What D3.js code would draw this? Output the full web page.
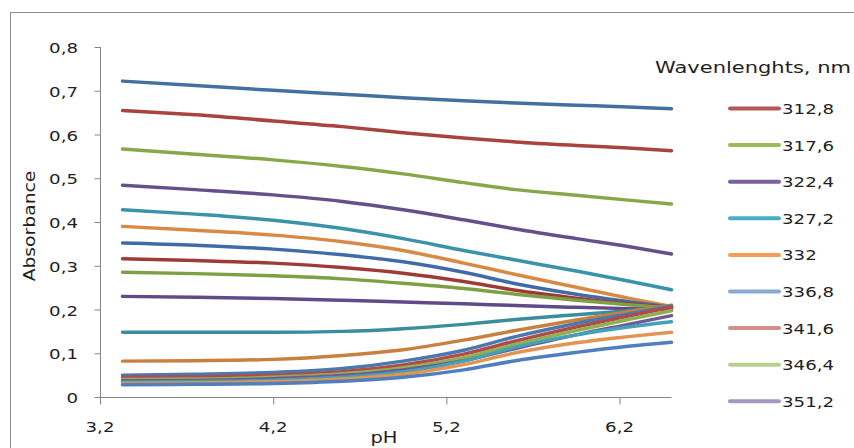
<!DOCTYPE html>
<html>
<head>
<meta charset="utf-8">
<script src="https://cdnjs.cloudflare.com/ajax/libs/d3/7.8.5/d3.min.js"></script>
<style>
  body { margin: 0; background: #fff; }
  text { font-family: "DejaVu Sans", sans-serif; fill: #1f1f1f; }
</style>
</head>
<body>
<svg id="chart"></svg>
<script>
// absorbance vs pH, one smoothed line per wavelength

var width = 854;
var height = 448;

// DATA
var pH = [3.33, 3.75, 4.2, 4.6, 4.95, 5.3, 5.6, 5.95, 6.25, 6.5];

var wavelengths = ["308", "312,8", "317,6", "322,4", "327,2", "332", "336,8", "341,6", "346,4",
    "351,2", "356", "360,8", "365,6", "370,4", "375,2", "380", "384,8", "389,6", "394,4"];

var absorbance = [
    [0.722, 0.712, 0.701, 0.692, 0.684, 0.677, 0.672, 0.667, 0.663, 0.659],
    [0.655, 0.645, 0.631, 0.618, 0.604, 0.592, 0.583, 0.575, 0.569, 0.563],
    [0.567, 0.555, 0.542, 0.527, 0.510, 0.490, 0.474, 0.461, 0.450, 0.441],
    [0.484, 0.474, 0.462, 0.447, 0.428, 0.405, 0.384, 0.362, 0.344, 0.327],
    [0.428, 0.418, 0.404, 0.385, 0.362, 0.335, 0.313, 0.288, 0.265, 0.245],
    [0.390, 0.381, 0.370, 0.355, 0.335, 0.306, 0.280, 0.251, 0.226, 0.207],
    [0.352, 0.347, 0.338, 0.325, 0.309, 0.285, 0.259, 0.235, 0.218, 0.205],
    [0.316, 0.312, 0.306, 0.296, 0.283, 0.264, 0.244, 0.226, 0.213, 0.204],
    [0.285, 0.282, 0.277, 0.270, 0.260, 0.248, 0.235, 0.221, 0.211, 0.203],
    [0.230, 0.228, 0.225, 0.221, 0.217, 0.213, 0.209, 0.205, 0.202, 0.200],
    [0.148, 0.148, 0.148, 0.150, 0.156, 0.166, 0.177, 0.188, 0.197, 0.206],
    [0.082, 0.083, 0.086, 0.095, 0.108, 0.130, 0.152, 0.176, 0.195, 0.210],
    [0.050, 0.052, 0.056, 0.065, 0.082, 0.107, 0.138, 0.168, 0.190, 0.208],
    [0.045, 0.046, 0.050, 0.058, 0.073, 0.098, 0.128, 0.160, 0.185, 0.205],
    [0.040, 0.041, 0.045, 0.053, 0.067, 0.090, 0.120, 0.152, 0.177, 0.197],
    [0.037, 0.038, 0.042, 0.049, 0.062, 0.083, 0.111, 0.142, 0.166, 0.186],
    [0.034, 0.035, 0.038, 0.045, 0.057, 0.082, 0.114, 0.142, 0.160, 0.172],
    [0.031, 0.032, 0.035, 0.041, 0.052, 0.074, 0.101, 0.124, 0.138, 0.148],
    [0.028, 0.029, 0.031, 0.036, 0.045, 0.062, 0.083, 0.102, 0.116, 0.125]
];

var lineColors = ["#43709f", "#a9433f", "#86a84a", "#64508b", "#3a93a8", "#d88a44",
    "#3f6ca8", "#9e3b37", "#7ea045", "#5f4b87", "#3a8d9f", "#c8803f",
    "#4a78b0", "#b04c48", "#8fb052", "#6e5a96", "#45a0b8", "#e39450", "#4f7fbc"];

// legend only shows these entries
var legendLabels = ["312,8", "317,6", "322,4", "327,2", "332", "336,8", "341,6", "346,4", "351,2"];
var legendColors = ["#b65754", "#9bbb59", "#7b6199", "#4bacc6", "#f59d56", "#8aa9cf", "#d68d8b", "#b9d08f", "#a697c0"];

var xTicks = [3.2, 4.2, 5.2, 6.2];
var yTicks = [0, 0.1, 0.2, 0.3, 0.4, 0.5, 0.6, 0.7, 0.8];

var fmt = function(d) { return String(d).replace(".", ","); };

var svg = d3.select("#chart")
    .attr("width", width)
    .attr("height", height);

// outer frame
svg.append("rect")
    .attr("x", 10.5).attr("y", 12.5)
    .attr("width", 900).attr("height", 500)
    .attr("fill", "#fff")
    .attr("stroke", "#8c8c8c");

// SCALES
var x = d3.scaleLinear().domain([3.2, 6.5]).range([100, 671.5]);
var y = d3.scaleLinear().domain([0, 0.8]).range([397, 47]);

// AXES
var axisColor = "#868686";

var yAxis = svg.append("g")
    .attr("transform", "translate(100.5,0)")
    .call(d3.axisLeft(y).tickValues(yTicks).tickSize(6).tickFormat(""));
var xAxis = svg.append("g")
    .attr("transform", "translate(0,397.5)")
    .call(d3.axisBottom(x).tickValues(xTicks).tickSize(7).tickFormat(""));
svg.selectAll(".domain, .tick line").attr("stroke", axisColor);
yAxis.select(".domain").attr("d", "M0," + y(0.8) + "V" + y(0));
xAxis.select(".domain").attr("d", "M" + x(3.2) + ",0H" + x(6.5));

// tick labels (glyphs in the source are wide, so stretch them)
svg.append("g").selectAll("text")
    .data(yTicks).enter().append("text")
    .attr("transform", d => "translate(78," + (y(d) + 6) + ") scale(1.3,1)")
    .attr("text-anchor", "end")
    .style("font-size", "14px")
    .text(fmt);

svg.append("g").selectAll("text")
    .data(xTicks).enter().append("text")
    .attr("transform", d => "translate(" + x(d) + ",432) scale(1.3,1)")
    .attr("text-anchor", "middle")
    .style("font-size", "14px")
    .text(fmt);

// axis titles
svg.append("text")
    .attr("transform", "translate(384,443) scale(1.3,1)")
    .attr("text-anchor", "middle")
    .style("font-size", "15px")
    .text("pH");

svg.append("text")
    .attr("transform", "translate(35,226) rotate(-90) scale(1.25,1)")
    .attr("text-anchor", "middle")
    .style("font-size", "15px")
    .text("Absorbance");

// LINES
var line = d3.line()
    .x((d, i) => x(pH[i]))
    .y(d => y(d))
    .curve(d3.curveMonotoneX);

svg.append("g").selectAll("path")
    .data(absorbance).enter().append("path")
    .attr("d", line)
    .attr("fill", "none")
    .attr("stroke", (d, i) => lineColors[i])
    .attr("stroke-width", 3.5)
    .attr("stroke-linecap", "round");

// LEGEND
svg.append("text")
    .attr("x", 655).attr("y", 73)
    .attr("textLength", 196)
    .attr("lengthAdjust", "spacingAndGlyphs")
    .style("font-size", "15px")
    .text("Wavenlenghts, nm");

var legend = svg.append("g").selectAll("g")
    .data(legendLabels).enter().append("g")
    .attr("transform", (d, i) => "translate(0," + (108.5 + i * 36.6) + ")");

legend.append("line")
    .attr("x1", 730).attr("x2", 779)
    .attr("stroke", (d, i) => legendColors[i])
    .attr("stroke-width", 4)
    .attr("stroke-linecap", "round");

legend.append("text")
    .attr("transform", "translate(782,5.5) scale(1.3,1)")
    .style("font-size", "14px")
    .text(d => d);
</script>
</body>
</html>
